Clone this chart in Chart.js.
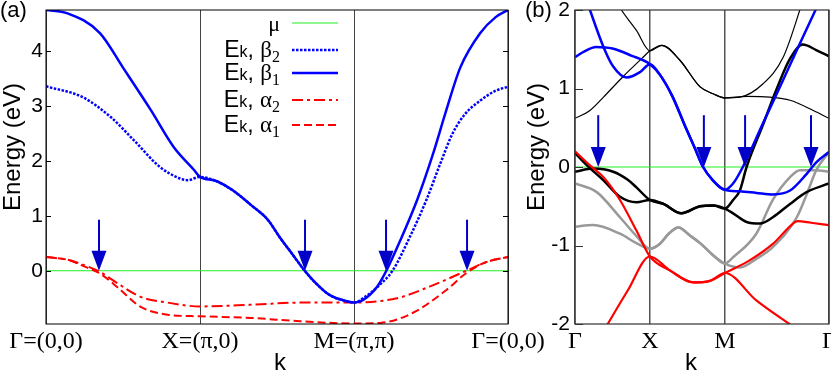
<!DOCTYPE html>
<html>
<head>
<meta charset="utf-8">
<title>Band structure</title>
<script src="https://cdn.jsdelivr.net/npm/chart.js@4.4.1/dist/chart.umd.min.js"></script>
<style>
  html, body { margin: 0; padding: 0; background: #fff; overflow: hidden; }
  #chartA { position: absolute; left: 0; top: 0; }
  #chartB { position: absolute; left: 520px; top: 0; }
</style>
</head>
<body>
<canvas id="chartA" width="560" height="372"></canvas>
<canvas id="chartB" width="311" height="372"></canvas>
<script>
// ---------- panel (a): k path Γ-X-M-Γ ----------
const kTicksA = [0, 1, 2, 3];
const kLabelsA = ['Γ=(0,0)', 'X=(π,0)', 'M=(π,π)', 'Γ=(0,0)'];
const eTicksA = [0, 1, 2, 3, 4];

const beta1K = [0, 0.14, 0.35, 0.5, 0.68, 0.83, 0.96, 1, 1.1, 1.21, 1.33, 1.44, 1.52, 1.6, 1.68, 1.75, 1.84, 1.96, 2, 2.06, 2.15, 2.21, 2.3, 2.41, 2.51, 2.6, 2.69, 2.82, 2.92, 3];
const beta1E = [4.75, 4.69, 4.33, 3.7, 2.93, 2.25, 1.84, 1.71, 1.64, 1.47, 1.2, 0.93, 0.6, 0.3, 0, -0.22, -0.44, -0.56, -0.58, -0.53, -0.29, 0, 0.55, 1.29, 2.1, 2.93, 3.7, 4.33, 4.62, 4.75];

const beta2K = [0, 0.24, 0.42, 0.57, 0.74, 0.87, 0.92, 1, 1.1, 1.21, 1.33, 1.44, 1.52, 1.6, 1.68, 1.75, 1.84, 1.96, 2, 2.07, 2.17, 2.25, 2.36, 2.47, 2.56, 2.64, 2.72, 2.82, 2.92, 3];
const beta2E = [3.36, 3.16, 2.8, 2.38, 1.89, 1.68, 1.65, 1.71, 1.64, 1.47, 1.2, 0.93, 0.6, 0.3, 0, -0.22, -0.44, -0.56, -0.58, -0.48, -0.25, 0, 0.6, 1.29, 1.95, 2.5, 2.85, 3.1, 3.28, 3.35];

const alpha2K = [0, 0.14, 0.24, 0.35, 0.46, 0.61, 0.79, 1, 1.33, 1.65, 2, 2.28, 2.49, 2.73, 2.86, 3];
const alpha2E = [0.25, 0.2, 0.11, -0.02, -0.22, -0.47, -0.58, -0.65, -0.62, -0.58, -0.58, -0.5, -0.29, 0, 0.16, 0.25];

const alpha1K = [0, 0.14, 0.24, 0.35, 0.46, 0.61, 0.79, 1, 1.33, 1.65, 2, 2.17, 2.38, 2.6, 2.73, 2.86, 3];
const alpha1E = [0.25, 0.2, 0.09, -0.05, -0.29, -0.65, -0.8, -0.83, -0.86, -0.92, -0.96, -0.95, -0.77, -0.35, -0.04, 0.16, 0.25];

const muKA = [0, 3];
const muEA = [0, 0];

const arrowKA = [0.344, 1.682, 2.208, 2.734];
const arrowTopA = 0.93;

// ---------- panel (b): k path Γ-X-M-Γ (true lengths) ----------
const kTicksB = [0, 1, 2, 3.39];
const kLabelsB = ['Γ', 'X', 'M', 'Γ'];
const eTicksB = [-2, -1, 0, 1, 2];

const blue1K = [0.13, 0.2, 0.38, 0.51, 0.69, 0.87, 1, 1.13, 1.3, 1.47, 1.6, 1.71, 1.84, 2, 2.11, 2.24, 2.51, 2.75, 3, 3.21, 3.26];
const blue1E = [2.2, 2, 1.53, 1.28, 1.14, 1.21, 1.31, 1.18, 0.9, 0.52, 0.24, 0, -0.17, -0.29, -0.21, 0, 0.56, 1.05, 1.57, 2, 2.1];

const blue2K = [0, 0.12, 0.28, 0.5, 0.75, 1, 1.13, 1.3, 1.47, 1.6, 1.71, 1.84, 2, 2.2, 2.42, 2.64, 2.87, 3.09, 3.22, 3.39];
const blue2E = [1.4, 1.47, 1.53, 1.51, 1.42, 1.31, 1.18, 0.9, 0.52, 0.24, 0, -0.17, -0.29, -0.31, -0.33, -0.35, -0.3, -0.09, 0.06, 0.19];

const black1K = [0, 0.16, 0.38, 0.6, 0.82, 1, 1.18, 1.42, 1.67, 1.85, 2, 2.11, 2.2, 2.29, 2.51, 2.69, 2.87, 3.04, 3.22, 3.39];
const black1E = [0.18, 0.02, -0.17, -0.38, -0.45, -0.42, -0.47, -0.59, -0.5, -0.49, -0.53, -0.42, -0.3, 0, 0.54, 0.99, 1.38, 1.56, 1.49, 1.41];

const black2K = [0, 0.24, 0.51, 0.7, 0.82, 1, 1.18, 1.42, 1.67, 1.85, 2, 2.11, 2.29, 2.47, 2.64, 2.87, 3.09, 3.39];
const black2E = [-0.06, -0.02, -0.06, -0.16, -0.26, -0.42, -0.47, -0.59, -0.5, -0.49, -0.53, -0.59, -0.7, -0.72, -0.64, -0.47, -0.32, -0.21];

const thin1K = [0.5, 0.62, 0.82, 1, 1.16, 1.4, 1.67, 1.85, 2, 2.2, 2.51, 2.78, 3, 3.06];
const thin1E = [2.2, 2, 1.74, 1.48, 1.55, 1.36, 1.02, 0.93, 0.88, 0.89, 1.06, 1.4, 2, 2.2];

const thin2K = [0, 0.2, 0.38, 0.64, 0.89, 1, 1.16, 1.4, 1.67, 1.85, 2, 2.3, 2.6, 2.87, 3.18, 3.39];
const thin2E = [0.62, 0.72, 0.89, 1.15, 1.38, 1.48, 1.55, 1.36, 1.02, 0.93, 0.88, 0.9, 0.89, 0.85, 0.72, 0.62];

const red1K = [0, 0.2, 0.38, 0.6, 0.82, 1, 1.27, 1.58, 1.8, 2, 2.33, 2.64, 2.91, 2.97, 3.15, 3.39];
const red1E = [0.2, 0.02, -0.13, -0.42, -0.81, -1.14, -1.32, -1.47, -1.45, -1.35, -1.19, -0.98, -0.72, -0.69, -0.71, -0.74];

const red2K = [0.4, 0.7, 1, 1.27, 1.58, 1.8, 2, 2.42, 2.92];
const red2E = [-2.06, -1.58, -1.14, -1.32, -1.47, -1.45, -1.35, -1.7, -2.04];

const gray1K = [0, 0.29, 0.6, 0.82, 1, 1.13, 1.25, 1.38, 1.53, 1.67, 1.85, 2, 2.11, 2.42, 2.64, 2.87, 3, 3.2, 3.39];
const gray1E = [-0.21, -0.32, -0.64, -0.88, -1.04, -0.98, -0.85, -0.77, -0.87, -0.97, -1.13, -1.23, -1.15, -0.85, -0.42, -0.13, -0.04, -0.04, -0.06];

const gray2K = [0, 0.24, 0.6, 0.82, 1, 1.13, 1.25, 1.38, 1.53, 1.67, 1.85, 2, 2.2, 2.42, 2.64, 2.96, 3.1, 3.22, 3.39];
const gray2E = [-0.76, -0.74, -0.85, -0.97, -1.04, -0.98, -0.85, -0.77, -0.87, -0.97, -1.13, -1.23, -1.28, -1.17, -1.02, -0.64, -0.33, -0.04, 0.19];

const muKB = [0, 3.39];
const muEB = [0, 0];

const arrowKB = [0.31, 1.72, 2.27, 3.15];
const arrowTopB = 0.66;

// ---------- styles ----------
const SANS = '"Liberation Sans", Arial, sans-serif';
const SERIF = '"Liberation Serif", "Times New Roman", serif';
const BLUE = '#0000ff', RED = '#ff0000', GREEN = '#22ee22', ARROW = '#0000c8';

function band(label, k, e, color, width, dash) {
  return {
    label: label,
    data: k.map((x, i) => ({ x: x, y: e[i] })),
    borderColor: color,
    borderWidth: width,
    borderDash: dash || [],
    pointRadius: 0,
    cubicInterpolationMode: 'monotone',
    fill: false
  };
}

function drawArrows(chart, ks, top) {
  const { ctx, scales: { x, y } } = chart;
  ctx.save();
  ctx.fillStyle = ARROW;
  ctx.strokeStyle = ARROW;
  ctx.lineWidth = 2;
  ks.forEach(k => {
    const px = x.getPixelForValue(k);
    const y0 = y.getPixelForValue(top), y1 = y.getPixelForValue(0);
    ctx.beginPath(); ctx.moveTo(px, y0); ctx.lineTo(px, y1 - 18); ctx.stroke();
    ctx.beginPath(); ctx.moveTo(px - 7.5, y1 - 20); ctx.lineTo(px + 7.5, y1 - 20); ctx.lineTo(px, y1); ctx.closePath(); ctx.fill();
  });
  ctx.restore();
}

function drawFrame(chart, color, width, ticks, len, rightTicks) {
  const { ctx, chartArea: a, scales: { y } } = chart;
  ctx.save();
  ctx.strokeStyle = color;
  ctx.lineWidth = width;
  ctx.strokeRect(a.left, a.top, a.right - a.left, a.bottom - a.top);
  ctx.beginPath();
  ticks.forEach(v => {
    const py = Math.round(y.getPixelForValue(v)) + 0.5;
    ctx.moveTo(a.left, py); ctx.lineTo(a.left + len, py);
    if (rightTicks) { ctx.moveTo(a.right, py); ctx.lineTo(a.right - len, py); }
  });
  ctx.stroke();
  ctx.restore();
}

function drawText(ctx, str, x, y, font) {
  ctx.font = font;
  ctx.fillText(str, x, y);
}

// axis titles: "k" under the axis, "Energy (eV)" rotated on the left
function drawTitles(chart, kX, eX) {
  const ctx = chart.ctx;
  ctx.save();
  ctx.fillStyle = '#000';
  ctx.textAlign = 'center';
  ctx.textBaseline = 'alphabetic';
  drawText(ctx, 'k', kX, 370, '24px ' + SANS);
  ctx.translate(eX, 147);
  ctx.rotate(-Math.PI / 2);
  ctx.textBaseline = 'middle';
  drawText(ctx, 'Energy (eV)', 0, 0, '24px ' + SANS);
  ctx.restore();
}

// legend of panel (a): text on the left, line sample on the right
const legendRows = [
  { ds: 4, greek: 'μ', sub: '' },
  { ds: 1, greek: 'β', sub: '2' },
  { ds: 0, greek: 'β', sub: '1' },
  { ds: 2, greek: 'α', sub: '2' },
  { ds: 3, greek: 'α', sub: '1' }
];

function drawLegend(chart) {
  const ctx = chart.ctx;
  const rowsY = [23, 50, 73, 100, 125];
  ctx.save();
  ctx.fillStyle = '#000';
  ctx.textBaseline = 'alphabetic';
  legendRows.forEach((row, i) => {
    const cy = rowsY[i];
    const base = cy + 7;
    let parts;
    if (row.sub === '') {
      parts = [[row.greek, '22px ' + SERIF, 1]];
    } else {
      parts = [['E', '23px ' + SANS, 0], ['k', '16px ' + SANS, 0], [', ', '23px ' + SANS, 0],
               [row.greek, '23px ' + SERIF, 0], [row.sub, '16px ' + SERIF, 5]];
    }
    let w = 0;
    parts.forEach(p => { ctx.font = p[1]; w += ctx.measureText(p[0]).width; });
    let x = 280 - w;
    parts.forEach(p => { drawText(ctx, p[0], x, base + p[2], p[1]); x += ctx.measureText(p[0]).width; });
    const ds = chart.data.datasets[row.ds];
    ctx.save();
    ctx.strokeStyle = ds.borderColor;
    ctx.lineWidth = ds.borderWidth;
    ctx.setLineDash(ds.borderDash);
    ctx.beginPath(); ctx.moveTo(292, cy); ctx.lineTo(338, cy); ctx.stroke();
    ctx.restore();
  });
  ctx.restore();
}

const decorA = {
  id: 'decorA',
  afterDatasetsDraw(chart) {
    drawArrows(chart, arrowKA, arrowTopA);
    drawFrame(chart, '#000', 1, eTicksA, 5, true);
    drawLegend(chart);
    drawTitles(chart, 280, 13);
    const ctx = chart.ctx;
    ctx.save();
    ctx.fillStyle = '#000';
    drawText(ctx, '(a)', 0, 17, '22px ' + SANS);
    ctx.restore();
  }
};

const decorB = {
  id: 'decorB',
  afterDatasetsDraw(chart) {
    drawArrows(chart, arrowKB, arrowTopB);
    drawFrame(chart, '#333', 1.2, eTicksB, 8, false);
    drawTitles(chart, 171, 17);
    const ctx = chart.ctx;
    ctx.save();
    ctx.fillStyle = '#000';
    drawText(ctx, '(b)', 5, 17, '22px ' + SANS);
    ctx.restore();
  }
};

function scalesFor(kTicks, kLabels, kMax, eTicks, eMin, eMax, yWidth, yTickPad, gridColor, gridWidth) {
  return {
    x: {
      type: 'linear', min: 0, max: kMax,
      afterBuildTicks: s => { s.ticks = kTicks.map(v => ({ value: v })); },
      afterFit: s => { s.height = 48; s.paddingLeft = 0; s.paddingRight = 0; },
      ticks: { autoSkip: false, maxRotation: 0, padding: 3, color: '#000',
               font: { family: SERIF, size: 24 }, callback: (v, i) => kLabels[i] },
      grid: { color: gridColor, lineWidth: gridWidth, drawTicks: false },
      border: { display: false }
    },
    y: {
      type: 'linear', min: eMin, max: eMax,
      afterBuildTicks: s => { s.ticks = eTicks.map(v => ({ value: v })); },
      afterFit: s => { s.width = yWidth; s.paddingTop = 0; s.paddingBottom = 0; },
      ticks: { padding: yTickPad, color: '#000', font: { family: SANS, size: 21 }, callback: v => String(v) },
      grid: { display: false, drawTicks: false },
      border: { display: false }
    }
  };
}

// Graficul (a)
new Chart(document.getElementById('chartA'), {
  type: 'line',
  data: {
    datasets: [
      band('Ek, β1', beta1K, beta1E, BLUE, 2.5),
      band('Ek, β2', beta2K, beta2E, BLUE, 2.5, [2.5, 1.5]),
      band('Ek, α2', alpha2K, alpha2E, RED, 2, [11, 4, 3, 4]),
      band('Ek, α1', alpha1K, alpha1E, RED, 2, [8, 4]),
      band('μ', muKA, muEA, GREEN, 1.2)
    ]
  },
  options: {
    responsive: false, animation: false, events: [],
    layout: { padding: { top: 10, right: 52, left: 0, bottom: 0 } },
    plugins: { legend: { display: false }, tooltip: { enabled: false } },
    scales: scalesFor(kTicksA, kLabelsA, 3, eTicksA, -0.97, 4.75, 46, 3, '#444', 1)
  },
  plugins: [decorA]
});

// Graficul (b)
new Chart(document.getElementById('chartB'), {
  type: 'line',
  data: {
    datasets: [
      band('blue 1', blue1K, blue1E, BLUE, 2.5),
      band('blue 2', blue2K, blue2E, BLUE, 2.5),
      band('red 1', red1K, red1E, RED, 2.2),
      band('red 2', red2K, red2E, RED, 2.2),
      band('black 1', black1K, black1E, '#000', 2.5),
      band('black 2', black2K, black2E, '#000', 2.5),
      band('gray 1', gray1K, gray1E, '#999', 2.5),
      band('gray 2', gray2K, gray2E, '#999', 2.5),
      band('thin 1', thin1K, thin1E, '#000', 1.2),
      band('thin 2', thin2K, thin2E, '#000', 1.2),
      band('μ', muKB, muEB, GREEN, 1.2)
    ]
  },
  options: {
    responsive: false, animation: false, events: [],
    layout: { padding: { top: 10, right: 2, left: 0, bottom: 0 } },
    plugins: { legend: { display: false }, tooltip: { enabled: false } },
    scales: scalesFor(kTicksB, kLabelsB, 3.39, eTicksB, -2, 2, 55, 5, '#555', 1.5)
  },
  plugins: [decorB]
});
</script>
</body>
</html>
